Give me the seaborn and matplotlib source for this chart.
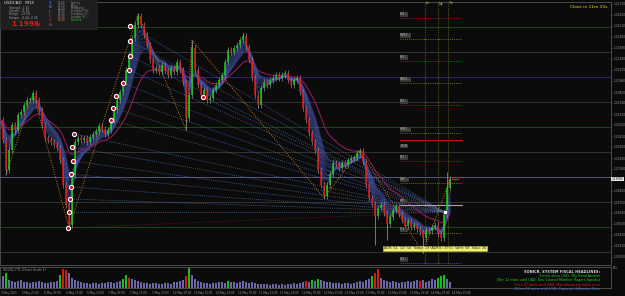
import numpy as np
import pandas as pd
import matplotlib
matplotlib.use("Agg")
import matplotlib.pyplot as plt
from matplotlib.patches import Rectangle
import seaborn as sns

# ---------------- data ----------------
close = [1.2057, 1.2037, 1.2007, 1.2027, 1.2052, 1.2047, 1.2062, 1.2065, 1.2072, 1.2077,
         1.2077, 1.2084, 1.2077, 1.2067, 1.2052, 1.2039, 1.2037, 1.2035, 1.2032, 1.2029,
         1.2017, 1.1992, 1.1972, 1.1952, 1.2002, 1.2035, 1.2039, 1.2037, 1.2039, 1.2035,
         1.2040, 1.2043, 1.2046, 1.2051, 1.2048, 1.2043, 1.2047, 1.2057, 1.2067, 1.2077,
         1.2085, 1.2095, 1.2107, 1.2122, 1.2139, 1.2152, 1.2161, 1.2152, 1.2142, 1.2132,
         1.2117, 1.2107, 1.2109, 1.2105, 1.2112, 1.2107, 1.2102, 1.2109, 1.2105, 1.2115,
         1.2107, 1.2095, 1.2059, 1.2082, 1.2129, 1.2107, 1.2092, 1.2082, 1.2087, 1.2077,
         1.2079, 1.2087, 1.2092, 1.2097, 1.2102, 1.2115, 1.2127, 1.2125, 1.2129, 1.2132,
         1.2137, 1.2141, 1.2130, 1.2117, 1.2099, 1.2082, 1.2072, 1.2089, 1.2095, 1.2092,
         1.2097, 1.2099, 1.2102, 1.2099, 1.2102, 1.2104, 1.2097, 1.2092, 1.2097, 1.2099,
         1.2085, 1.2069, 1.2057, 1.2044, 1.2035, 1.2027, 1.2007, 1.1992, 1.1981, 1.1992,
         1.2003, 1.2014, 1.2013, 1.2009, 1.2014, 1.2012, 1.2017, 1.2019, 1.2019, 1.2024,
         1.2026, 1.2015, 1.1992, 1.1979, 1.1973, 1.1961, 1.1969, 1.1972, 1.1964, 1.1953,
         1.1960, 1.1967, 1.1971, 1.1963, 1.1957, 1.1951, 1.1956, 1.1950, 1.1952, 1.1948,
         1.1945, 1.1939, 1.1947, 1.1946, 1.1950, 1.1952, 1.1943, 1.1939, 1.1962, 1.1989,
         1.1998]

volume = [45, 55, 70, 40, 35, 30, 35, 40, 30, 28,
          25, 30, 28, 35, 30, 25, 22, 30, 28, 35,
          60, 90, 85, 70, 50, 40, 35, 30, 25, 22,
          20, 22, 25, 20, 22, 25, 28, 30, 25, 30,
          35, 45, 60, 50, 45, 40, 35, 30, 25, 22,
          20, 22, 25, 20, 18, 22, 25, 20, 28, 30,
          35, 40, 55, 95, 60, 45, 35, 30, 25, 22,
          20, 25, 22, 28, 30, 25, 35, 30, 28, 25,
          30, 35, 30, 25, 28, 22, 20, 18, 20, 18,
          15, 18, 20, 15, 18, 15, 20, 18, 22, 20,
          25, 30, 35, 30, 40, 35, 45, 40, 35, 30,
          28, 25, 22, 25, 20, 22, 25, 20, 25, 30,
          35, 30, 40, 45, 55, 70, 90, 50, 40, 35,
          30, 35, 30, 25, 28, 30, 35, 30, 35, 40,
          35, 40, 30, 35, 45, 40, 50, 55, 60, 45, 30]
vol_green = [2, 20, 41, 42, 63, 76, 104, 106, 124, 146, 147, 148]
vol_red = [21, 22, 43, 62, 102, 125, 126, 140]

spike_idx = [2, 23, 46, 62, 64, 81, 86, 108, 120, 125, 129, 141, 149]
spike_px = [1.2002, 1.1949, 1.2163, 1.2047, 1.2137, 1.2144, 1.2070, 1.1979,
            1.2027, 1.1932, 1.1937, 1.1924, 1.2005]

zig_idx = [2, 11, 23, 46, 62, 64, 108, 120, 141, 150]
zig_px = [1.2002, 1.2084, 1.1949, 1.2163, 1.2047, 1.2137, 1.1979, 1.2027, 1.1924, 1.1998]

circ_idx = [22.7, 23.0, 23.3, 23.7, 23.7, 24.3, 24.0, 24.7, 37.0, 37.7, 38.7, 41.0,
            43.0, 43.3, 43.3, 43.3, 67.7]
circ_px = [1.1949, 1.1965, 1.1978, 1.1990, 1.2003, 1.2016, 1.2030, 1.2043, 1.2057,
           1.2069, 1.2081, 1.2094, 1.2107, 1.2121, 1.2136, 1.2151, 1.2080]
fan_target = (148.3, 1.1965)

pivot_px = [1.2159, 1.2138, 1.2116, 1.2094, 1.2072, 1.2044, 1.2037, 1.2016, 1.1994,
            1.1972, 1.1944, 1.1914]
pivot_lbl = ["R4 \u2013", "WR2 \u2013", "R3 \u2013", "WR1 \u2013", "R2 \u2013", "MR1 \u2013",
             "PDH", "R1 \u2013", "WP \u2013", "PP \u2013", "S1 \u2013", "S2 \u2013"]
pivot_kind = ["r", "o", "r", "o", "r", "o", "rs", "r", "o", "ys", "o", "b"]

round_px = [1.2150, 1.2125, 1.2100, 1.2075, 1.2050, 1.2025, 1.2000, 1.1975, 1.1950, 1.1925]
round_kind = ["g", "k", "b", "k", "g", "k", "c", "k", "g", "k"]

date_lbl = ["5 May 2021", "5 May 23:00", "6 May 07:00", "6 May 15:00", "6 May 23:00",
            "7 May 07:00", "7 May 15:00", "7 May 23:00", "10 May 07:00", "10 May 15:00",
            "10 May 23:00", "11 May 07:00", "11 May 15:00", "11 May 23:00", "12 May 07:00",
            "12 May 15:00", "12 May 23:00", "13 May 07:00", "13 May 15:00", "13 May 23:00",
            "14 May 07:00", "14 May 15:00"]

sess_idx = [141.7, 146.0, 149.3]
sess_lbl = ["Lo", "Ny", "Tk"]

headlines = ["SONICR. SYSTEM FISCAL HEADLINES:",
             "3 mins since USD: 30y Bond Auction",
             "[5hr 12 mins until CAD: Gov Council Member Rogers Speaks]",
             "9 hrs 27 mins until CAD: Manufacturing Sales m/m",
             "20 hrs 12 mins until USD: Capacity Utilization Rate"]
head_col = ["#d8d8d8", "#20d020", "#20d020", "#e02020", "#4a7ae0"]

sessions = ["Sydney", "Tokyo", "Hongkong", "Frankfurt (S)", "Frankfurt (F.)",
            "London (S.)", "NewYork"]
sess_time = ["02:00", "03:00", "04:00", "09:00", "09:00", "10:00", "15:00"]
info_lbl = ["Spread:  2.10", "Candle:  6.10", "Range:  22.30", "Swaps: -0.44,-0.26"]

# ---------------- figure ----------------
W, H = 625, 296
BG = "#0b0b0b"
sns.set_theme(style="dark", rc={"axes.facecolor": BG, "figure.facecolor": BG})
plt.rcParams["font.family"] = ["DejaVu Sans"]

fig = plt.figure(figsize=(W / 100, H / 100), dpi=100)
ax = fig.add_axes([0, 1 - 265 / H, 611 / W, 263 / H])
axv = fig.add_axes([0, 1 - 288 / H, 611 / W, 21 / H])
for a in (ax, axv):
    a.set_facecolor(BG)
    for s in a.spines.values():
        s.set_color("#555555")
        s.set_linewidth(0.6)
    a.grid(False)

n = len(close)
df = pd.DataFrame({"t": np.arange(n), "close": close})

# round-number horizontal lines
rcol = {"g": "#124d12", "k": "#333333", "b": "#25256e", "c": "#56567a"}
for p, k in zip(round_px, round_kind):
    ax.axhline(p, color=rcol[k], lw=0.7, zorder=1)

# fan lines from circles to target
for j, (ci, cp) in enumerate(zip(circ_idx, circ_px)):
    col = "#8a1a2a" if j == 0 else "#5a7ac0"
    ax.plot([ci, fan_target[0]], [cp, fan_target[1]], ls=(0, (1, 1.5)), lw=0.6,
            color=col, alpha=0.8, zorder=2)

# MA ribbon
for span in [3, 4, 5, 6, 7, 8, 9]:
    df[f"ema{span}"] = df["close"].ewm(span=span, adjust=False).mean()
    sns.lineplot(data=df, x="t", y=f"ema{span}", ax=ax, color="#4656ac", lw=1.4,
                 alpha=0.4, zorder=3)
df["slow"] = df["close"].ewm(span=18, adjust=False).mean()
sns.lineplot(data=df, x="t", y="slow", ax=ax, color="#8c1c5c", lw=0.8, zorder=3)

# zigzag
ax.plot(zig_idx, zig_px, ls=(0, (1, 1.5)), lw=0.7, color="#c07a1a", zorder=4)

# candles
for i in range(1, n):
    o, c = close[i - 1], close[i]
    lo, hi = min(o, c) - 0.0003, max(o, c) + 0.0003
    ax.vlines(i, lo, hi, color="#8a8a8a", lw=0.5, zorder=5)
    ax.vlines(i, min(o, c), max(o, c) if abs(c - o) > 0.00005 else min(o, c) + 0.00005,
              color="#16d016" if c >= o else "#e01818", lw=1.1, zorder=6)
for si, sp in zip(spike_idx, spike_px):
    ax.vlines(si, sp, close[si], color="#8a8a8a", lw=0.6, zorder=5)

# circles
ax.scatter(circ_idx, circ_px, s=9, facecolor="#c01030", edgecolor="white", lw=0.8, zorder=8)
ax.scatter([fan_target[0]], [fan_target[1]], s=10, marker="s", facecolor="white",
           edgecolor="#333333", lw=0.5, zorder=8)

# pivot levels on the right
pcol = {"r": "#a01818", "o": "#6f6f1c", "rs": "#d01010", "ys": "#b8b820", "b": "#4a4ab0"}
for p, lb, k in zip(pivot_px, pivot_lbl, pivot_kind):
    solid = k.endswith("s")
    ax.plot([133.3, 154], [p, p], color=pcol[k], lw=0.8 if solid else 0.7,
            ls="-" if solid else (0, (1, 1.2)), zorder=4)
    ax.text(133.5, p + (0.00035 if lb != "PDH" else -0.0006), lb, fontsize=2.3,
            color="#c0c0c0", va="center", ha="left", zorder=9,
            bbox=dict(boxstyle="square,pad=0.1", fc="#3a3a3a", ec="none"))

# session lines
for si in sess_idx:
    ax.axvline(si, color="#6a6a20", lw=0.6, ls=(0, (1, 1.2)), zorder=2)

# current price marker
ax.plot([150.5, 152.5], [close[-1], close[-1]], color="#e01818", lw=1.0, zorder=7)

# yellow info box
ax.text(128.0, 1.19285, "ADR: 51  1D: 54  Today: 19 (ADR%: 37%)  5dHi: 58  5dLo: 36",
        fontsize=2.4, color="#202020", va="center", ha="left", zorder=9,
        bbox=dict(boxstyle="square,pad=0.25", fc="#f0f070", ec="#c8c840", lw=0.4))

ax.set_xlim(0, 611 / 3)
ax.set_ylim(1.2177 - 265 / 1e4, 1.2177 - 2 / 1e4)
ax.set_xlabel("")
ax.set_ylabel("")
ax.set_xticks([])
yt = [round(1.2173 - 0.0011 * k, 5) for k in range(24)]
yt = [v for v in yt if abs(v - close[-1]) > 0.0005]
ax.set_yticks(yt)
ax.set_yticklabels([f"{v:.5f}" for v in yt])
ax.yaxis.tick_right()
ax.tick_params(axis="y", which="both", colors="#9a9a9a", labelsize=2.1, length=1.0,
               width=0.4, pad=0.6, right=True, left=False)
ax.text(1.0015, (close[-1] - ax.get_ylim()[0]) / (ax.get_ylim()[1] - ax.get_ylim()[0]),
        f"{close[-1]:.5f}", transform=ax.transAxes, fontsize=2.1, color="#101010",
        va="center", ha="left", zorder=10,
        bbox=dict(boxstyle="square,pad=0.15", fc="#e8e8e8", ec="none"))

# volume
vcols = []
for i in range(len(volume)):
    vcols.append("#16c016" if i in vol_green else "#d81818" if i in vol_red else "#6c68a8")
axv.bar(np.arange(len(volume)), volume, width=0.75, color=vcols, linewidth=0)
axv.set_xlim(0, 611 / 3)
axv.set_ylim(0, 100)
axv.set_yticks([])
xt = [(1 + 21.5 * k) / 3 for k in range(len(date_lbl))]
axv.set_xticks(xt)
axv.set_xticklabels(date_lbl, ha="left")
axv.tick_params(axis="x", colors="#9a9a9a", labelsize=2.0, length=1.0, width=0.4, pad=1)
axv.text(0.005, 0.88, "SGVOL FTL (Chart Scale 1)", transform=axv.transAxes,
         fontsize=2.3, color="#9a9a9a", va="center", ha="left")
fig.text(613 / W, 1 - 268 / H, "ETL", fontsize=2.2, color="#9a9a9a", va="center")

def fx(x):
    return x / W

def fy(y):
    return 1 - y / H

for k, (t, c) in enumerate(zip(headlines, head_col)):
    fig.text(fx(600), fy(272 + 4.2 * k), t, fontsize=2.4 if k else 2.6, color=c,
             ha="right", va="center", fontweight="bold" if k == 0 else "normal")

# session labels at the top
for si, lb in zip(sess_idx, sess_lbl):
    fig.text(fx(si * 3 + 1), fy(3.5), lb, fontsize=2.4, color="#c8c840", ha="left", va="center")

fig.text(fx(589), fy(7), "Close in 11m 33s", fontsize=3.2, color="#e0e020",
         ha="center", va="center")

# info panel top-left
fig.patches.append(Rectangle((0, fy(29)), fx(97), 29 / H, transform=fig.transFigure,
                             facecolor="#1e1e1e", edgecolor="#2c2c2c", lw=0.4, zorder=5))
fig.text(fx(4), fy(3.5), "USDCAD   M15", fontsize=3.0, color="#e8e8e8", va="center",
         zorder=6)
for k, t in enumerate(info_lbl):
    fig.text(fx(9), fy(7.8 + 3.3 * k), t, fontsize=2.2, color="#9a9a9a", va="center", zorder=6)
fig.text(fx(11), fy(24.5), "1.1998", fontsize=5.2, color="#e01818", fontweight="bold",
         va="center", zorder=6)
fig.text(fx(38), fy(25), "4", fontsize=3.0, color="#e01818", va="center", zorder=6)
letters = ["S", "B", "I", "L", "C", "H"]
lcol = ["#3a6ae0", "#3a6ae0", "#3a6ae0", "#c02020", "#c02020", "#e02020"]
for k, (t, c) in enumerate(zip(letters, lcol)):
    fig.text(fx(49), fy(3 + 4.3 * k), t, fontsize=2.8, color=c, fontweight="bold",
             va="center", zorder=6)
for k, (tm, nm) in enumerate(zip(sess_time, sessions)):
    last = k == len(sessions) - 1
    fig.text(fx(58), fy(2.8 + 2.85 * k), tm, fontsize=2.0,
             color="#e08a20" if last else "#8a8a8a", va="center", zorder=6)
    fig.text(fx(71), fy(2.8 + 2.85 * k), nm, fontsize=2.0,
             color="#20c020" if last else "#8a8a8a", va="center", zorder=6)

fig.savefig("out.png", dpi=100, facecolor=BG)
